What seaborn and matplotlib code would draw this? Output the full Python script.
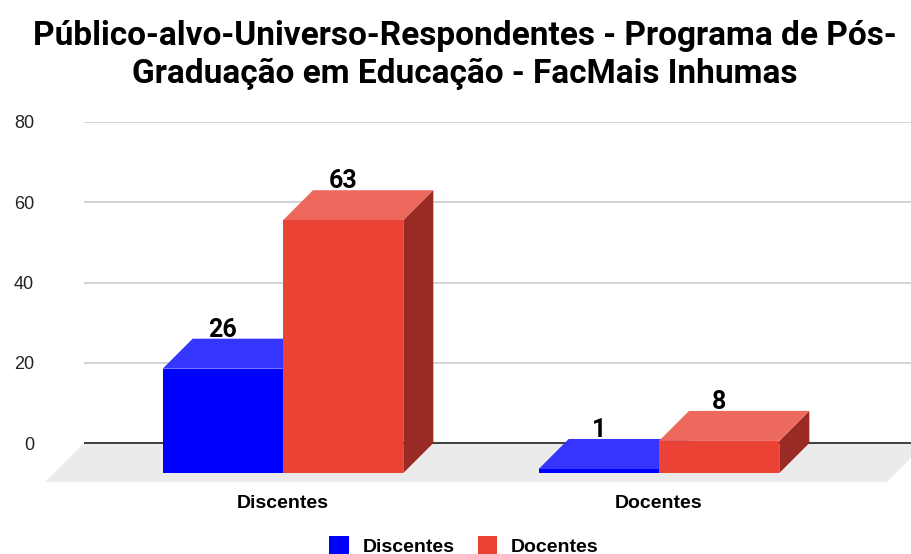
import pandas as pd
import matplotlib
matplotlib.use("Agg")
import matplotlib.pyplot as plt
from matplotlib.patches import Polygon
import seaborn as sns

# dados
grupos = ["Discentes", "Docentes"]
series = ["Discentes", "Docentes"]
valores_discentes = [26, 1]
valores_docentes = [63, 8]
y_ticks = [0, 20, 40, 60, 80]
titulo = "Público-alvo-Universo-Respondentes - Programa de Pós-\nGraduação em Educação - FacMais Inhumas"

cores_frente = {"Discentes": "#0000ff", "Docentes": "#ea4335"}
cores_topo = {"Discentes": "#3535ff", "Docentes": "#ed695e"}
cores_lado = {"Discentes": "#0000a8", "Docentes": "#992b24"}

df = pd.DataFrame({
    "grupo": grupos * 2,
    "serie": [series[0]] * 2 + [series[1]] * 2,
    "valor": valores_discentes + valores_docentes,
})

sns.set_theme(style="white")
plt.rcParams["font.family"] = ["Liberation Sans", "DejaVu Sans"]

W, H = 912, 554
fig = plt.figure(figsize=(W / 100, H / 100), dpi=100)
# area do grafico em pixels: x 84..912, y 122..482
ax = fig.add_axes([84 / W, (H - 482) / H, (912 - 84) / W, (482 - 122) / H])

px_x = 376.0            # pixels por unidade de categoria
px_y = 321.0 / 80       # pixels por unidade de valor
prof = 30               # profundidade 3D em pixels
dx = prof / px_x
dy = prof / px_y

sns.barplot(data=df, x="grupo", y="valor", hue="serie", order=grupos,
            hue_order=series, palette=cores_frente, saturation=1, width=0.64,
            errorbar=None, linewidth=0, ax=ax, legend=True)

ax.set_xlim(-(283 - 84) / px_x, (912 - 283) / px_x)
ax.set_ylim(-39 / px_y, 80)

# piso
xl = ax.get_xlim()[0]
chao = Polygon([(xl, 0), (xl + 842 / px_x, 0),
                (xl + (842 - 39) / px_x, -39 / px_y), (xl - 39 / px_x, -39 / px_y)],
               closed=True, facecolor="#ebebeb", edgecolor="none", zorder=0.5, clip_on=False)
ax.add_patch(chao)
ax.axhline(0, color="#333333", lw=1.3, zorder=1.5)

# faces 3D e rotulos (face frontal deslocada para a frente/baixo)
for i, (cont, serie) in enumerate(zip(ax.containers, series)):
    vals = df[df["serie"] == serie].set_index("grupo").loc[grupos, "valor"].tolist()
    for rect, v in zip(cont.patches, vals):
        rect.set_y(rect.get_y() - dy)
        x0, w = rect.get_x(), rect.get_width()
        yb = rect.get_y()
        y1 = yb + rect.get_height()
        rect.set_zorder(2.2 + i)
        topo = Polygon([(x0, y1), (x0 + w, y1), (x0 + w + dx, y1 + dy), (x0 + dx, y1 + dy)],
                       closed=True, facecolor=cores_topo[serie], edgecolor="none", zorder=2 + i)
        lado = Polygon([(x0 + w, yb), (x0 + w + dx, yb + dy), (x0 + w + dx, y1 + dy), (x0 + w, y1)],
                       closed=True, facecolor=cores_lado[serie], edgecolor="none", zorder=2 + i)
        ax.add_patch(lado)
        ax.add_patch(topo)
        ax.annotate(f"{v}", (x0 + w / 2, y1 + dy), xytext=(0, 1.5), textcoords="offset points",
                    ha="center", va="baseline", fontsize=18, fontweight="bold",
                    family=["Roboto", "DejaVu Sans"], color="#000000", zorder=10)

ax.set_yticks(y_ticks)
ax.yaxis.grid(True, color="#cccccc", lw=1.2)
ax.xaxis.grid(False)
ax.set_axisbelow(True)
for s in ax.spines.values():
    s.set_visible(False)
ax.tick_params(axis="y", length=0, pad=36, labelsize=13, labelcolor="#222222")
ax.tick_params(axis="x", length=0, pad=9, labelsize=14, labelcolor="#000000")
for lab in ax.get_xticklabels():
    lab.set_fontweight("bold")
ax.set_xlabel("")
ax.set_ylabel("")

handles, labels = ax.get_legend_handles_labels()
leg = ax.legend(handles, labels, loc="center", bbox_to_anchor=(464 / W, (H - 546) / H),
                bbox_transform=fig.transFigure, ncol=2, frameon=False,
                prop={"size": 14, "weight": "bold"}, handlelength=1.0, handleheight=1.0,
                handletextpad=0.7, columnspacing=1.2)
for t in leg.get_texts():
    t.set_color("#000000")

fig.text(465 / W, (H - 55) / H, titulo, ha="center", va="center", fontsize=24,
         fontweight="bold", family=["Roboto", "DejaVu Sans"], linespacing=1.2,
         color="#000000")

fig.savefig("out.png", dpi=100)
